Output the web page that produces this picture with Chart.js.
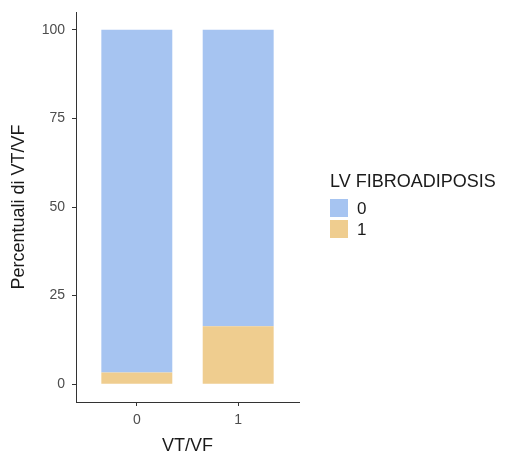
<!DOCTYPE html>
<html>
<head>
<meta charset="utf-8">
<script src="https://cdn.jsdelivr.net/npm/chart.js@4"></script>
<style>
  html, body { margin: 0; padding: 0; background: #fff; }
  #wrap { width: 507px; height: 457px; }
</style>
</head>
<body>
<div id="wrap"><canvas id="vtChart" width="507" height="457"></canvas></div>
<script>
const categories = ['0', '1'];
const fibroNo = [96.7, 83.6];   // LV FIBROADIPOSIS = 0
const fibroYes = [3.3, 16.4];   // LV FIBROADIPOSIS = 1
const yTicks = [0, 25, 50, 75, 100];

const blue = 'rgb(166, 196, 241)';
const sand = 'rgb(239, 205, 143)';
const fontFamily = '"Liberation Sans", Arial, sans-serif';

// legend drawn by hand on the right, ggplot style
const sideLegend = {
    id: 'sideLegend',
    afterDraw(chart) {
        const c = chart.ctx;
        const x = 330;
        c.save();
        c.fillStyle = '#1a1a1a';
        c.font = '18px ' + fontFamily;
        c.textBaseline = 'middle';
        c.textAlign = 'left';
        c.fillText('LV FIBROADIPOSIS', x, 182);
        const keys = [
            { label: categories[0], color: blue, y: 199 },
            { label: categories[1], color: sand, y: 220 }
        ];
        keys.forEach(k => {
            c.fillStyle = k.color;
            c.fillRect(x, k.y, 18, 18);
            c.fillStyle = '#1a1a1a';
            c.font = '17px ' + fontFamily;
            c.fillText(k.label, x + 27, k.y + 10);
        });
        c.restore();
    }
};

const ctx = document.getElementById('vtChart').getContext('2d');

new Chart(ctx, {
    type: 'bar',
    data: {
        datasets: [
            {
                label: '1',
                data: categories.map((c, i) => ({ x: Number(c), y: fibroYes[i] })),
                backgroundColor: sand,
                categoryPercentage: 0.7,
                barPercentage: 1
            },
            {
                label: '0',
                data: categories.map((c, i) => ({ x: Number(c), y: fibroNo[i] })),
                backgroundColor: blue,
                categoryPercentage: 0.7,
                barPercentage: 1
            }
        ]
    },
    options: {
        responsive: false,
        animation: false,
        layout: { padding: { left: 0, right: 208, top: 12, bottom: 0 } },
        plugins: {
            legend: { display: false },
            tooltip: { enabled: false }
        },
        scales: {
            x: {
                type: 'linear',
                stacked: true,
                offset: false,
                min: -0.6,
                max: 1.6,
                afterBuildTicks: s => { s.ticks = categories.map(c => ({ value: Number(c) })); },
                afterFit: s => { s.height = 55; s.paddingLeft = 0; s.paddingRight = 0; },
                border: { color: '#333333', width: 1 },
                grid: { offset: false, drawOnChartArea: false, drawTicks: true, tickLength: 4, color: '#333333' },
                ticks: {
                    color: '#4d4d4d',
                    font: { family: fontFamily, size: 14 },
                    padding: 6,
                    callback: v => String(v)
                },
                title: {
                    display: true,
                    text: 'VT/VF',
                    color: '#1a1a1a',
                    font: { family: fontFamily, size: 18 },
                    padding: { top: 0, bottom: 0 }
                }
            },
            y: {
                stacked: true,
                min: -5,
                max: 105,
                afterBuildTicks: s => { s.ticks = yTicks.map(v => ({ value: v })); },
                afterFit: s => { s.width = 76; s.paddingTop = 0; s.paddingBottom = 0; },
                border: { color: '#333333', width: 1 },
                grid: { drawOnChartArea: false, drawTicks: true, tickLength: 4, color: '#333333' },
                ticks: {
                    color: '#4d4d4d',
                    font: { family: fontFamily, size: 14 },
                    padding: 7
                },
                title: {
                    display: true,
                    text: 'Percentuali di VT/VF',
                    color: '#1a1a1a',
                    font: { family: fontFamily, size: 18 },
                    padding: { top: 8, bottom: 0 }
                }
            }
        }
    },
    plugins: [sideLegend]
});
</script>
</body>
</html>
